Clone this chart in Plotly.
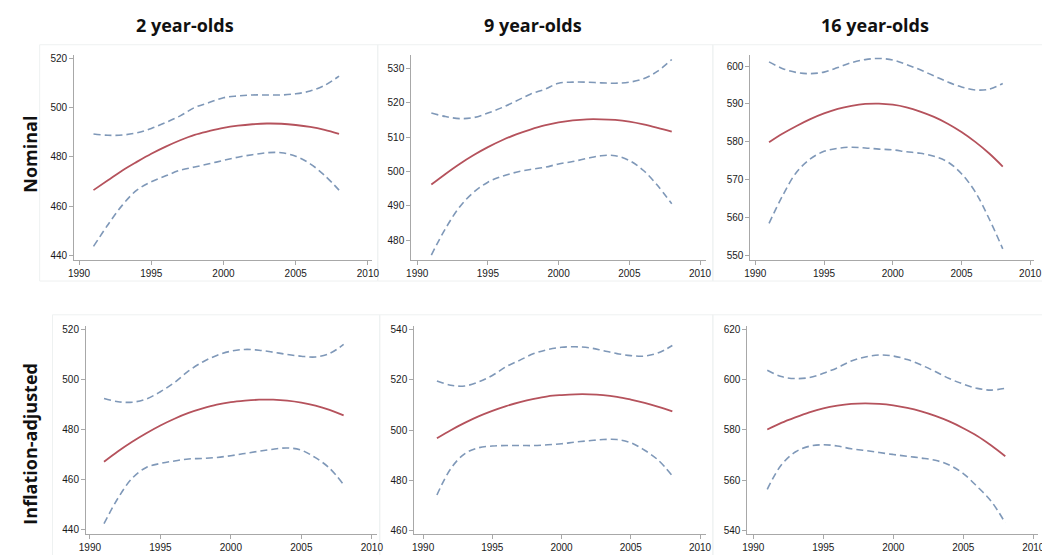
import plotly.graph_objects as go

W, H = 1050, 555

years = list(range(1991, 2009))

col_titles = ["2 year-olds", "9 year-olds", "16 year-olds"]
row_titles = ["Nominal", "Inflation-adjusted"]

# ---- Nominal, 2 year-olds
nom2_fit = [466.5, 470.5, 474.5, 478.0, 481.3, 484.2, 486.8, 489.0, 490.5, 491.8, 492.7, 493.3, 493.6, 493.5, 493.0, 492.2, 491.0, 489.4]
nom2_hi = [489.3, 488.8, 488.9, 489.8, 491.6, 494.0, 496.7, 500.1, 502.1, 504.1, 504.8, 505.2, 505.2, 505.2, 505.7, 506.8, 509.1, 512.9]
nom2_lo = [443.6, 452.4, 460.4, 466.5, 469.9, 472.3, 474.6, 475.9, 477.2, 478.6, 479.9, 480.9, 481.7, 481.7, 480.3, 477.2, 472.5, 466.5]

# ---- Nominal, 9 year-olds
nom9_fit = [496.2, 499.3, 502.2, 504.8, 507.1, 509.1, 510.8, 512.2, 513.4, 514.3, 514.9, 515.2, 515.2, 515.0, 514.5, 513.7, 512.7, 511.6]
nom9_hi = [517.0, 516.0, 515.4, 515.7, 517.0, 518.6, 520.5, 522.5, 523.9, 525.7, 526.0, 526.0, 525.8, 525.7, 526.0, 527.0, 529.2, 532.6]
nom9_lo = [475.7, 483.4, 489.7, 494.0, 496.9, 498.6, 499.8, 500.6, 501.2, 502.2, 502.9, 503.8, 504.6, 504.6, 503.2, 500.3, 495.9, 490.6]

# ---- Nominal, 16 year-olds
nom16_fit = [579.9, 582.2, 584.2, 586.0, 587.5, 588.7, 589.5, 590.0, 590.1, 589.8, 589.1, 588.0, 586.6, 584.8, 582.6, 580.0, 577.0, 573.5]
nom16_hi = [601.1, 599.3, 598.3, 598.0, 598.4, 599.6, 600.9, 601.7, 602.0, 601.6, 600.4, 599.0, 597.4, 595.8, 594.5, 593.7, 593.9, 595.4]
nom16_lo = [558.5, 565.9, 572.0, 575.5, 577.5, 578.3, 578.6, 578.4, 578.1, 577.9, 577.4, 577.0, 576.2, 574.7, 571.6, 566.8, 559.8, 551.8]

# ---- Inflation-adjusted, 2 year-olds
inf2_fit = [467.2, 471.4, 475.2, 478.6, 481.7, 484.4, 486.7, 488.5, 490.0, 491.0, 491.6, 492.0, 492.0, 491.6, 490.8, 489.6, 487.9, 485.7]
inf2_hi = [492.5, 491.2, 491.0, 492.3, 495.2, 498.9, 503.5, 507.1, 509.7, 511.4, 512.1, 511.8, 511.0, 510.1, 509.4, 509.1, 510.5, 514.1]
inf2_lo = [442.4, 452.7, 460.6, 464.9, 466.5, 467.5, 468.3, 468.5, 468.9, 469.6, 470.5, 471.4, 472.2, 472.7, 471.8, 468.8, 464.6, 458.0]

# ---- Inflation-adjusted, 9 year-olds
inf9_fit = [496.8, 500.0, 502.9, 505.5, 507.7, 509.6, 511.2, 512.5, 513.5, 514.0, 514.3, 514.3, 514.0, 513.3, 512.2, 510.9, 509.3, 507.5]
inf9_hi = [519.6, 517.9, 517.6, 519.2, 521.8, 525.3, 527.9, 530.5, 532.1, 533.0, 533.2, 532.8, 531.7, 530.5, 529.7, 529.5, 530.8, 533.7]
inf9_lo = [474.2, 484.7, 490.6, 493.0, 493.7, 493.9, 493.9, 493.9, 494.2, 494.6, 495.3, 495.8, 496.3, 496.3, 495.0, 492.0, 488.0, 481.8]

# ---- Inflation-adjusted, 16 year-olds
inf16_fit = [580.2, 582.8, 585.0, 587.0, 588.6, 589.7, 590.4, 590.6, 590.4, 589.8, 588.8, 587.4, 585.6, 583.4, 580.7, 577.6, 573.8, 569.5]
inf16_hi = [603.8, 601.3, 600.5, 600.9, 602.6, 604.8, 607.5, 609.1, 609.9, 609.5, 608.1, 605.9, 603.3, 600.5, 598.3, 596.6, 595.9, 596.6]
inf16_lo = [556.3, 566.0, 571.2, 573.5, 574.1, 573.6, 572.5, 571.8, 571.0, 570.2, 569.5, 568.8, 567.9, 566.0, 562.6, 557.4, 551.5, 542.9]

x_ticks = [1990, 1995, 2000, 2005, 2010]
y_ticks = [
    [440, 460, 480, 500, 520],
    [480, 490, 500, 510, 520, 530],
    [550, 560, 570, 580, 590, 600],
    [440, 460, 480, 500, 520],
    [460, 480, 500, 520, 540],
    [540, 560, 580, 600, 620],
]

panels = [
    (nom2_fit, nom2_hi, nom2_lo),
    (nom9_fit, nom9_hi, nom9_lo),
    (nom16_fit, nom16_hi, nom16_lo),
    (inf2_fit, inf2_hi, inf2_lo),
    (inf9_fit, inf9_hi, inf9_lo),
    (inf16_fit, inf16_hi, inf16_lo),
]

# layout geometry (pixels)
dom_px = [
    ((60, 362), (45, 252)),
    ((402, 701), (45, 252)),
    ((746, 1034), (45, 252)),
    ((72, 367), (318, 528)),
    ((405, 701), (318, 528)),
    ((743, 1038), (318, 528)),
]
x_ranges = [
    [1989.66, 2010.27],
    [1989.58, 2010.42],
    [1989.64, 2010.29],
    [1989.72, 2010.35],
    [1989.36, 2010.43],
    [1989.58, 2010.35],
]
y_ranges = [
    [438.0, 521.6],
    [474.2, 534.0],
    [548.8, 603.0],
    [438.2, 521.6],
    [458.6, 541.6],
    [538.4, 621.6],
]
frames_px = [
    (25, 35, 368, 273), (368, 35, 708, 273), (708, 35, 1043, 273),
    (38, 307, 370, 553), (370, 307, 708, 553), (708, 307, 1043, 553),
]

RED = "#b5525c"
BLUE = "#7f98b8"
AX = "#a8a8a8"
TICKFONT = dict(family="Liberation Sans, Arial, sans-serif", size=10, color="#1a1a1a")

fig = go.Figure()
layout = {}
for i, (fit, hi, lo) in enumerate(panels):
    n = i + 1
    xa = "x" if n == 1 else f"x{n}"
    ya = "y" if n == 1 else f"y{n}"
    for ys, color, dash, wd in [(hi, BLUE, "7px,4px", 1.6), (lo, BLUE, "7px,4px", 1.6), (fit, RED, "solid", 1.8)]:
        fig.add_trace(go.Scatter(
            x=years, y=ys, xaxis=xa, yaxis=ya, mode="lines",
            line=dict(color=color, width=wd, dash=dash, shape="spline", smoothing=1.0),
            showlegend=False, hoverinfo="skip"))
    (x0, x1), (y0, y1) = dom_px[i]
    xkey = "xaxis" if n == 1 else f"xaxis{n}"
    ykey = "yaxis" if n == 1 else f"yaxis{n}"
    layout[xkey] = dict(
        domain=[x0 / W, x1 / W], anchor=ya, range=x_ranges[i],
        tickvals=x_ticks, ticks="outside", ticklen=4, tickcolor=AX,
        showline=True, linecolor=AX, linewidth=1, showgrid=False, zeroline=False,
        tickfont=TICKFONT, fixedrange=True)
    layout[ykey] = dict(
        domain=[1 - y1 / H, 1 - y0 / H], anchor=xa, range=y_ranges[i],
        tickvals=y_ticks[i], ticks="outside", ticklen=4, tickcolor=AX,
        showline=True, linecolor=AX, linewidth=1, showgrid=False, zeroline=False,
        tickfont=TICKFONT, fixedrange=True)

shapes = []
for (l, t, r, b) in frames_px:
    shapes.append(dict(type="rect", xref="paper", yref="paper",
                       x0=l / W, x1=r / W, y0=1 - b / H, y1=1 - t / H,
                       line=dict(color="#eef1f1", width=1), layer="below"))

TITLEFONT = dict(family="Open Sans, Liberation Sans, sans-serif", size=18, color="#111111")
annotations = []
for cx, txt in zip([172, 525, 872], col_titles):
    annotations.append(dict(text="<b>%s</b>" % txt, x=cx / W, y=1 - 15 / H, xref="paper", yref="paper",
                            showarrow=False, xanchor="center", yanchor="middle", font=TITLEFONT))
for cy, txt in zip([145, 437], row_titles):
    annotations.append(dict(text="<b>%s</b>" % txt, x=15 / W, y=1 - cy / H, xref="paper", yref="paper",
                            showarrow=False, xanchor="center", yanchor="middle", textangle=-90, font=TITLEFONT))

fig.update_layout(
    width=W, height=H, autosize=False,
    margin=dict(l=0, r=0, t=0, b=0),
    paper_bgcolor="white", plot_bgcolor="white",
    shapes=shapes, annotations=annotations,
    **layout)

fig.write_html("out.html", config={"displayModeBar": False})
